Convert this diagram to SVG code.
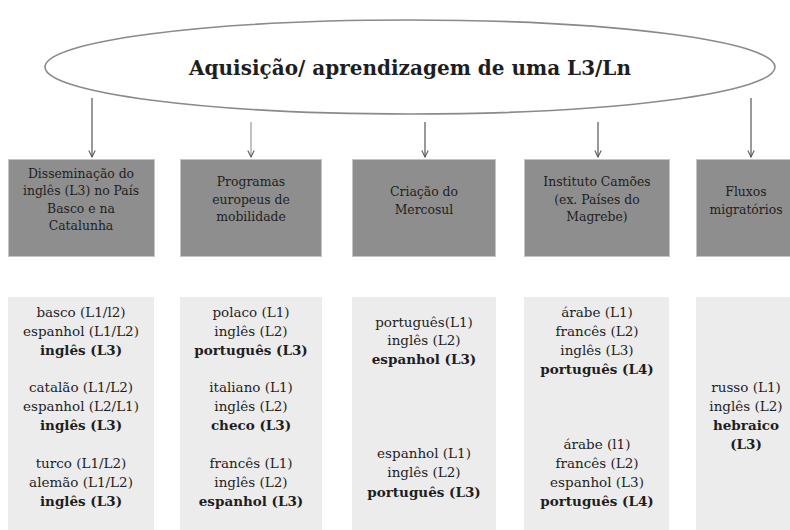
<svg xmlns="http://www.w3.org/2000/svg" width="790" height="530" viewBox="0 0 790 530">
<defs>
<style>
.hdr{fill:#8e8e8e;stroke:#c4c4c4;stroke-width:1}
.lst{fill:#ececec;stroke:none}
.ht{font-family:"DejaVu Serif","Liberation Serif",serif;font-size:12.4px;fill:#1e1e1e;text-anchor:middle}
.lt{font-family:"DejaVu Serif","Liberation Serif",serif;font-size:13.5px;fill:#1e1e1e;text-anchor:middle}
.b{font-weight:bold}
.conn{stroke:#555;stroke-width:1.2;fill:none;marker-end:url(#arr)}
</style>
<marker id="arr" viewBox="0 0 10 10" refX="9" refY="5" markerWidth="8" markerHeight="8" markerUnits="userSpaceOnUse" orient="auto">
<path d="M1,1 L9,5 L1,9" fill="none" stroke="#555" stroke-width="1.3"/>
</marker>
</defs>
<rect width="790" height="530" fill="#ffffff"/>
<g id="title">
<ellipse cx="410" cy="67" rx="365" ry="47" fill="#ffffff" stroke="#8a8a8a" stroke-width="1.6"/>
<text x="410" y="75" font-family="DejaVu Serif,Liberation Serif,serif" font-size="20" font-weight="bold" fill="#1e1e1e" text-anchor="middle">Aquisição/ aprendizagem de uma L3/Ln</text>
</g>
<g id="connectors">
<line class="conn" x1="92" y1="98" x2="92" y2="157"/>
<line class="conn" x1="251" y1="122" x2="251" y2="157" style="stroke:#999"/>
<line class="conn" x1="425" y1="122" x2="425" y2="157"/>
<line class="conn" x1="598" y1="122" x2="598" y2="157"/>
<line class="conn" x1="751" y1="98" x2="751" y2="157"/>
</g>
<g id="h1">
<rect class="hdr" x="8.5" y="159.5" width="146" height="97"/>
<text class="ht" x="81"><tspan x="81" y="177.5">Disseminação do</tspan><tspan x="81" y="195">inglês (L3) no País</tspan><tspan x="81" y="212.5">Basco e na</tspan><tspan x="81" y="230">Catalunha</tspan></text>
</g>
<g id="h2">
<rect class="hdr" x="180.5" y="159.5" width="141" height="97"/>
<text class="ht"><tspan x="251" y="186">Programas</tspan><tspan x="251" y="204">europeus de</tspan><tspan x="251" y="221">mobilidade</tspan></text>
</g>
<g id="h3">
<rect class="hdr" x="352.5" y="159.5" width="143" height="97"/>
<text class="ht"><tspan x="424" y="196">Criação do</tspan><tspan x="424" y="214">Mercosul</tspan></text>
</g>
<g id="h4">
<rect class="hdr" x="524.5" y="159.5" width="145" height="97"/>
<text class="ht"><tspan x="597" y="186">Instituto Camões</tspan><tspan x="597" y="204">(ex. Países do</tspan><tspan x="597" y="221">Magrebe)</tspan></text>
</g>
<g id="h5">
<rect class="hdr" x="696.5" y="159.5" width="100" height="97"/>
<text class="ht"><tspan x="746" y="196">Fluxos</tspan><tspan x="746" y="214">migratórios</tspan></text>
</g>
<g id="l1">
<rect class="lst" x="8" y="297" width="146" height="240"/>
<text class="lt"><tspan x="81" y="317">basco (L1/l2)</tspan><tspan x="81" y="336">espanhol (L1/L2)</tspan><tspan x="81" y="355" class="b">inglês (L3)</tspan><tspan x="81" y="392">catalão (L1/L2)</tspan><tspan x="81" y="411">espanhol (L2/L1)</tspan><tspan x="81" y="430" class="b">inglês (L3)</tspan><tspan x="81" y="468">turco (L1/L2)</tspan><tspan x="81" y="487">alemão (L1/L2)</tspan><tspan x="81" y="506" class="b">inglês (L3)</tspan></text>
</g>
<g id="l2">
<rect class="lst" x="180" y="297" width="142" height="240"/>
<text class="lt"><tspan x="251" y="317">polaco (L1)</tspan><tspan x="251" y="336">inglês (L2)</tspan><tspan x="251" y="355" class="b">português (L3)</tspan><tspan x="251" y="392">italiano (L1)</tspan><tspan x="251" y="411">inglês (L2)</tspan><tspan x="251" y="430" class="b">checo (L3)</tspan><tspan x="251" y="468">francês (L1)</tspan><tspan x="251" y="487">inglês (L2)</tspan><tspan x="251" y="506" class="b">espanhol (L3)</tspan></text>
</g>
<g id="l3">
<rect class="lst" x="352" y="297" width="144" height="240"/>
<text class="lt"><tspan x="424" y="327">português(L1)</tspan><tspan x="424" y="345">inglês (L2)</tspan><tspan x="424" y="364" class="b">espanhol (L3)</tspan><tspan x="424" y="458">espanhol (L1)</tspan><tspan x="424" y="477">inglês (L2)</tspan><tspan x="424" y="497" class="b">português (L3)</tspan></text>
</g>
<g id="l4">
<rect class="lst" x="524" y="297" width="145" height="240"/>
<text class="lt"><tspan x="597" y="317">árabe (L1)</tspan><tspan x="597" y="336">francês (L2)</tspan><tspan x="597" y="355">inglês (L3)</tspan><tspan x="597" y="374" class="b">português (L4)</tspan><tspan x="597" y="449">árabe (l1)</tspan><tspan x="597" y="468">francês (L2)</tspan><tspan x="597" y="487">espanhol (L3)</tspan><tspan x="597" y="506" class="b">português (L4)</tspan></text>
</g>
<g id="l5">
<rect class="lst" x="696" y="297" width="100" height="240"/>
<text class="lt"><tspan x="746" y="392">russo (L1)</tspan><tspan x="746" y="411">inglês (L2)</tspan><tspan x="746" y="430" class="b">hebraico</tspan><tspan x="746" y="449" class="b">(L3)</tspan></text>
</g>
</svg>
